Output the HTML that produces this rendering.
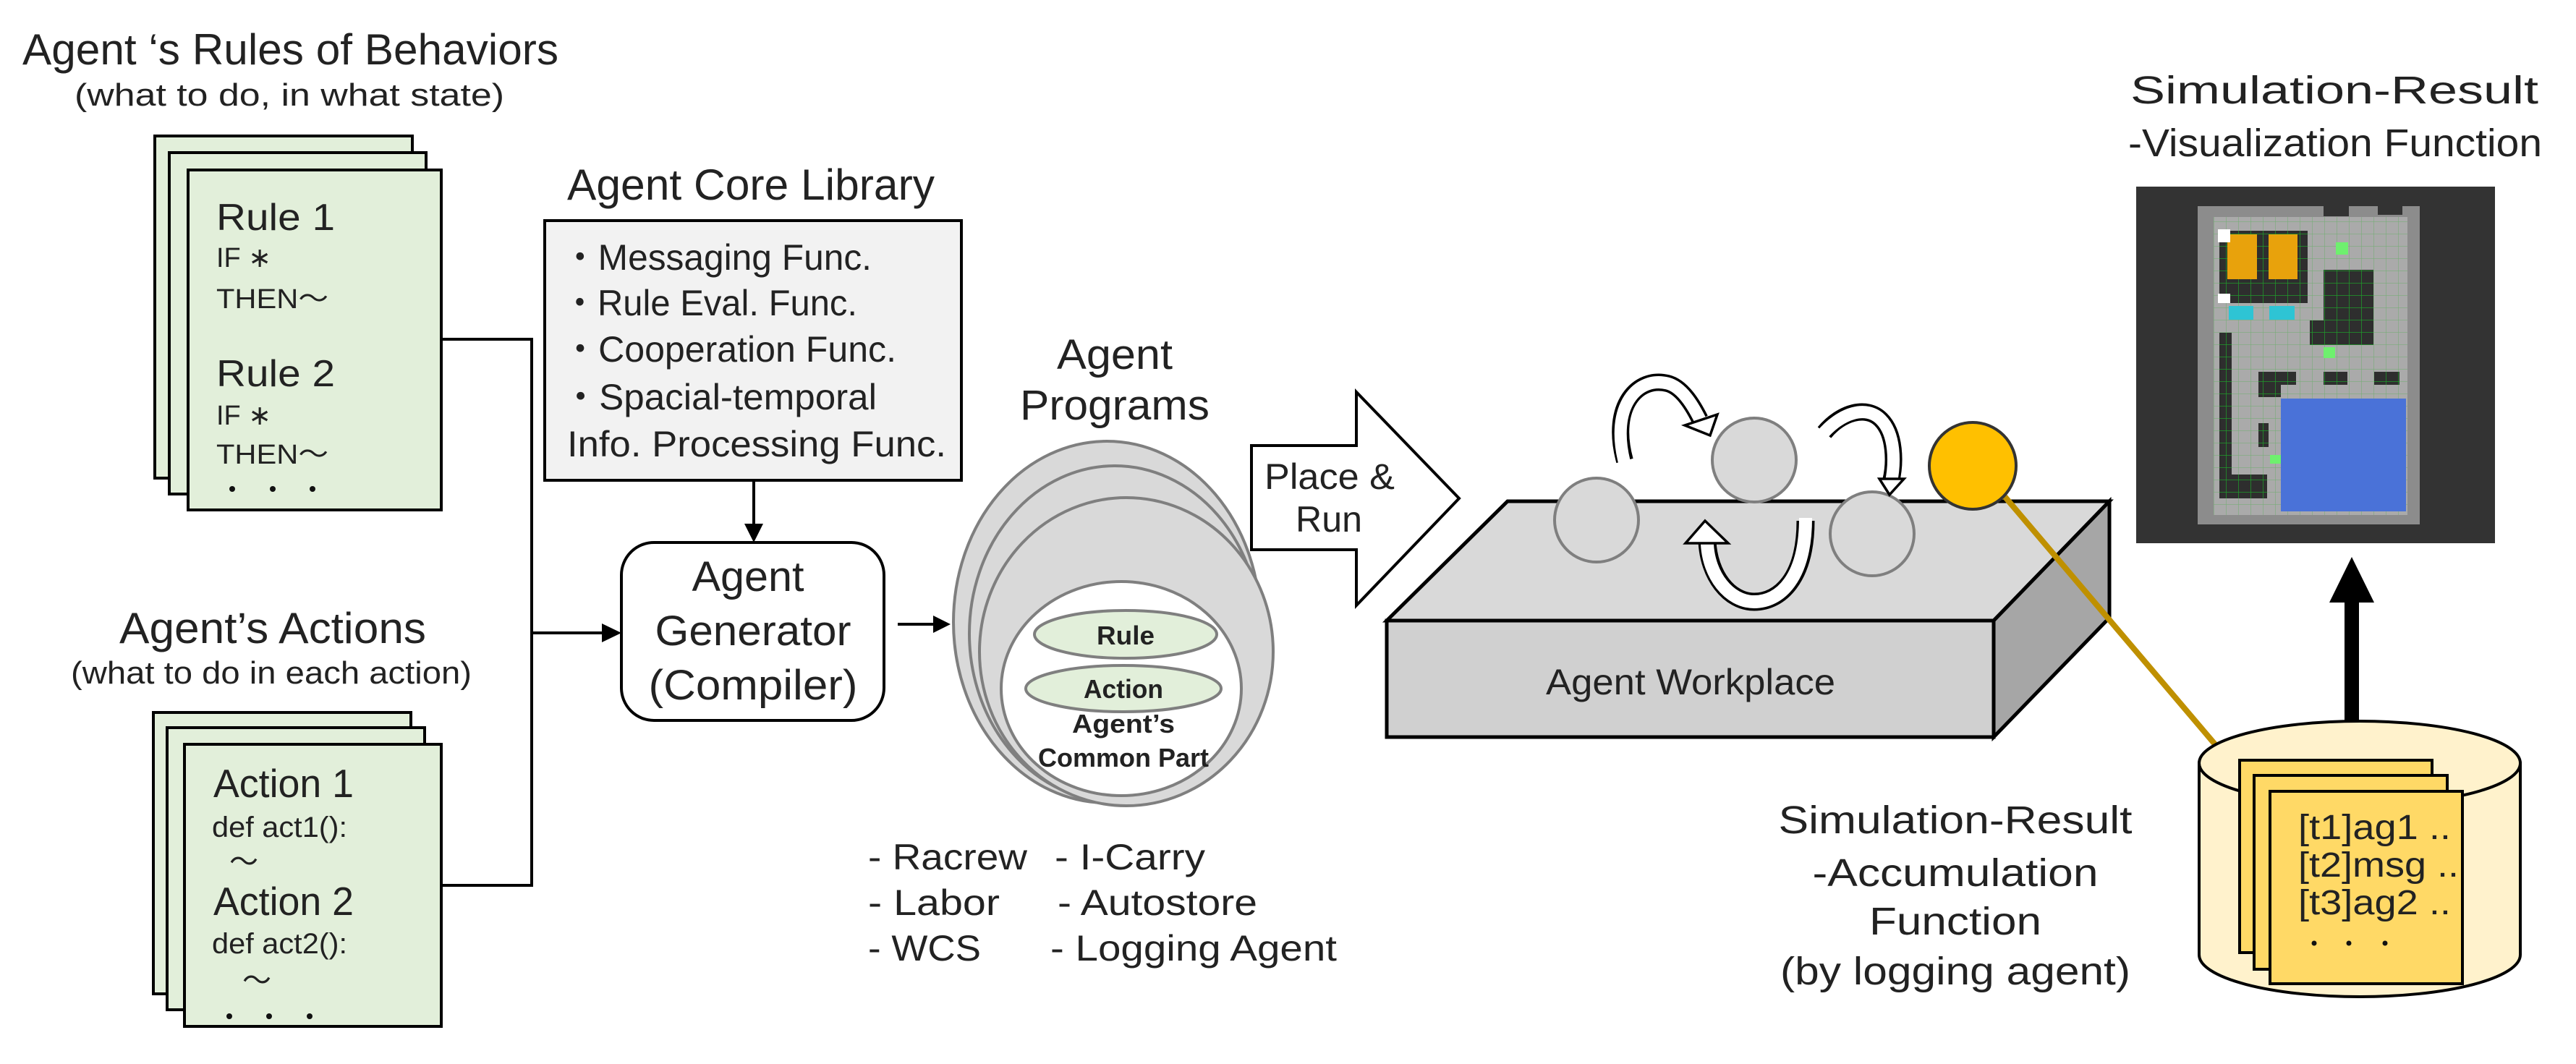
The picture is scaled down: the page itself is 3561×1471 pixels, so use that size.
<!DOCTYPE html>
<html><head><meta charset="utf-8"><style>
html,body{margin:0;padding:0;background:#fff;}
svg{display:block;}
text{font-family:"Liberation Sans","Noto Sans CJK JP",sans-serif;fill:#222;}
</style></head><body>
<svg width="3561" height="1471" viewBox="0 0 3561 1471" xmlns="http://www.w3.org/2000/svg">
<defs>
<pattern id="gg" width="17" height="17" patternUnits="userSpaceOnUse"><rect width="17" height="17" fill="#2e2e2e"/><path d="M0 0H17M0 0V17" stroke="#1f9a2a" stroke-width="1.5"/></pattern>
<pattern id="lg" width="17" height="17" patternUnits="userSpaceOnUse"><rect width="17" height="17" fill="#aaaaaa"/><path d="M0 0H17M0 0V17" stroke="#6fae6f" stroke-width="1"/></pattern>
</defs>

<text x="31" y="89" font-size="60" textLength="741" lengthAdjust="spacingAndGlyphs">Agent ‘s Rules of Behaviors</text>
<text x="103" y="146" font-size="44" textLength="594" lengthAdjust="spacingAndGlyphs">(what to do, in what state)</text>

<rect x="214" y="188" width="356" height="473" fill="#e2efda" stroke="#000" stroke-width="4"/>
<rect x="234" y="211" width="355" height="472" fill="#e2efda" stroke="#000" stroke-width="4"/>
<rect x="260" y="235" width="350" height="470" fill="#e2efda" stroke="#000" stroke-width="4"/>
<text x="299" y="318" font-size="52" textLength="164" lengthAdjust="spacingAndGlyphs">Rule  1</text>
<text x="299" y="369" font-size="38" textLength="76" lengthAdjust="spacingAndGlyphs">IF ∗</text>
<text x="299" y="426" font-size="38" textLength="155" lengthAdjust="spacingAndGlyphs">THEN～</text>
<text x="299" y="534" font-size="52" textLength="164" lengthAdjust="spacingAndGlyphs">Rule  2</text>
<text x="299" y="587" font-size="38" textLength="76" lengthAdjust="spacingAndGlyphs">IF ∗</text>
<text x="299" y="641" font-size="38" textLength="155" lengthAdjust="spacingAndGlyphs">THEN～</text>
<circle cx="321" cy="676" r="4" fill="#111"/><circle cx="377" cy="676" r="4" fill="#111"/><circle cx="432" cy="676" r="4" fill="#111"/>

<text x="165" y="889" font-size="60" textLength="424" lengthAdjust="spacingAndGlyphs">Agent’s Actions</text>
<text x="98" y="945" font-size="44" textLength="554" lengthAdjust="spacingAndGlyphs">(what to do in each action)</text>
<rect x="212" y="985" width="356" height="389" fill="#e2efda" stroke="#000" stroke-width="4"/>
<rect x="231" y="1006" width="356" height="390" fill="#e2efda" stroke="#000" stroke-width="4"/>
<rect x="255" y="1029" width="355" height="390" fill="#e2efda" stroke="#000" stroke-width="4"/>
<text x="295" y="1102" font-size="55" textLength="194" lengthAdjust="spacingAndGlyphs">Action 1</text>
<text x="293" y="1157" font-size="40" textLength="187" lengthAdjust="spacingAndGlyphs">def act1():</text>
<text x="317" y="1205" font-size="40">～</text>
<text x="295" y="1265" font-size="55" textLength="194" lengthAdjust="spacingAndGlyphs">Action 2</text>
<text x="293" y="1318" font-size="40" textLength="187" lengthAdjust="spacingAndGlyphs">def act2():</text>
<text x="335" y="1369" font-size="40">～</text>
<circle cx="317" cy="1405" r="4" fill="#111"/><circle cx="372" cy="1405" r="4" fill="#111"/><circle cx="428" cy="1405" r="4" fill="#111"/>

<polyline points="610,469 735,469 735,1224 610,1224" fill="none" stroke="#000" stroke-width="4"/>
<line x1="735" y1="875" x2="835" y2="875" stroke="#000" stroke-width="4"/>
<polygon points="859,875 832,862 832,888" fill="#000"/>

<text x="784" y="276" font-size="60" textLength="508" lengthAdjust="spacingAndGlyphs">Agent Core Library</text>
<rect x="753" y="305" width="576" height="359" fill="#f2f2f2" stroke="#000" stroke-width="4"/>
<text x="777" y="373" font-size="50" textLength="428" lengthAdjust="spacingAndGlyphs">・Messaging Func.</text>
<text x="777" y="436" font-size="50" textLength="408" lengthAdjust="spacingAndGlyphs">・Rule Eval. Func.</text>
<text x="777" y="500" font-size="50" textLength="462" lengthAdjust="spacingAndGlyphs">・Cooperation Func.</text>
<text x="777" y="566" font-size="50" textLength="435" lengthAdjust="spacingAndGlyphs">・Spacial-temporal</text>
<text x="784" y="631" font-size="50" textLength="524" lengthAdjust="spacingAndGlyphs">Info. Processing Func.</text>
<line x1="1042" y1="664" x2="1042" y2="728" stroke="#000" stroke-width="4"/>
<polygon points="1042,750 1029,724 1055,724" fill="#000"/>

<rect x="859" y="750" width="363" height="246" rx="45" fill="#fff" stroke="#000" stroke-width="4"/>
<text x="1034" y="817" font-size="58" text-anchor="middle" textLength="155" lengthAdjust="spacingAndGlyphs">Agent</text>
<text x="1041" y="892" font-size="58" text-anchor="middle" textLength="271" lengthAdjust="spacingAndGlyphs">Generator</text>
<text x="1041" y="967" font-size="58" text-anchor="middle" textLength="289" lengthAdjust="spacingAndGlyphs">(Compiler)</text>
<line x1="1241" y1="863" x2="1292" y2="863" stroke="#000" stroke-width="4"/>
<polygon points="1314,863 1290,851 1290,875" fill="#000"/>

<text x="1541" y="510" font-size="58" text-anchor="middle" textLength="160" lengthAdjust="spacingAndGlyphs">Agent</text>
<text x="1541" y="580" font-size="58" text-anchor="middle" textLength="262" lengthAdjust="spacingAndGlyphs">Programs</text>
<ellipse cx="1530" cy="860" rx="212" ry="250" fill="#d9d9d9" stroke="#7f7f7f" stroke-width="4"/>
<ellipse cx="1541" cy="876" rx="201" ry="232" fill="#d9d9d9" stroke="#7f7f7f" stroke-width="4"/>
<ellipse cx="1557" cy="901" rx="203" ry="213" fill="#d9d9d9" stroke="#7f7f7f" stroke-width="4"/>
<ellipse cx="1550" cy="952" rx="166" ry="148" fill="#fff" stroke="#7f7f7f" stroke-width="4"/>
<ellipse cx="1556" cy="877" rx="126" ry="33" fill="#e2efda" stroke="#7f7f7f" stroke-width="4"/>
<ellipse cx="1553" cy="952" rx="135" ry="32" fill="#e2efda" stroke="#7f7f7f" stroke-width="4"/>
<text x="1556" y="891" font-size="36" font-weight="bold" text-anchor="middle" textLength="80" lengthAdjust="spacingAndGlyphs">Rule</text>
<text x="1553" y="965" font-size="36" font-weight="bold" text-anchor="middle" textLength="110" lengthAdjust="spacingAndGlyphs">Action</text>
<text x="1553" y="1013" font-size="36" font-weight="bold" text-anchor="middle" textLength="142" lengthAdjust="spacingAndGlyphs">Agent’s</text>
<text x="1553" y="1060" font-size="36" font-weight="bold" text-anchor="middle" textLength="236" lengthAdjust="spacingAndGlyphs">Common Part</text>

<g font-size="50">
<text x="1200" y="1202" textLength="220" lengthAdjust="spacingAndGlyphs">- Racrew</text>
<text x="1200" y="1265" textLength="182" lengthAdjust="spacingAndGlyphs">- Labor</text>
<text x="1200" y="1328" textLength="156" lengthAdjust="spacingAndGlyphs">- WCS</text>
<text x="1458" y="1202" textLength="208" lengthAdjust="spacingAndGlyphs">- I-Carry</text>
<text x="1462" y="1265" textLength="276" lengthAdjust="spacingAndGlyphs">- Autostore</text>
<text x="1452" y="1328" textLength="396" lengthAdjust="spacingAndGlyphs">- Logging Agent</text>
</g>

<polygon points="1730,616 1875,616 1875,542 2017,689 1875,837 1875,760 1730,760" fill="#fff" stroke="#000" stroke-width="4"/>
<text x="1838" y="676" font-size="50" text-anchor="middle" textLength="180" lengthAdjust="spacingAndGlyphs">Place &amp;</text>
<text x="1837" y="735" font-size="50" text-anchor="middle" textLength="92" lengthAdjust="spacingAndGlyphs">Run</text>

<polygon points="1917,858 2084,693 2916,693 2756,858" fill="#d9d9d9" stroke="#000" stroke-width="5"/>
<polygon points="2756,858 2916,693 2916,854 2756,1019" fill="#a6a6a6" stroke="#000" stroke-width="5"/>
<rect x="1917" y="858" width="839" height="161" fill="#d0d0d0" stroke="#000" stroke-width="5"/>
<text x="2337" y="960" font-size="50" text-anchor="middle" textLength="400" lengthAdjust="spacingAndGlyphs">Agent Workplace</text>

<circle cx="2207" cy="719" r="58" fill="#d9d9d9" stroke="#7f7f7f" stroke-width="4"/>
<circle cx="2425" cy="636" r="58" fill="#d9d9d9" stroke="#7f7f7f" stroke-width="4"/>
<circle cx="2588" cy="738" r="58" fill="#d9d9d9" stroke="#7f7f7f" stroke-width="4"/>

<g fill="none" stroke-linecap="butt">
<path d="M2246,637 C2225,560 2265,520 2305,530 C2325,535 2340,560 2350,580" stroke="#000" stroke-width="24"/>
<path d="M2246,641 C2225,560 2265,520 2305,530 C2325,535 2340,560 2350,580" stroke="#fff" stroke-width="17"/>
<path d="M2522,598 C2545,570 2580,560 2600,580 C2620,600 2620,640 2614,665" stroke="#000" stroke-width="24"/>
<path d="M2518,602 C2545,570 2580,560 2600,580 C2620,600 2620,640 2614,668" stroke="#fff" stroke-width="17"/>
<path d="M2496,720 C2496,800 2460,832 2425,832 C2390,832 2362,795 2360,748" stroke="#000" stroke-width="25"/>
<path d="M2496,716 C2496,800 2460,832 2425,832 C2390,832 2362,795 2360,752" stroke="#fff" stroke-width="18"/>
</g>
<polygon points="2364,602 2329,588 2374,573" fill="#fff" stroke="#000" stroke-width="3.5"/>
<polygon points="2612,684 2598,662 2632,662" fill="#fff" stroke="#000" stroke-width="3.5"/>
<polygon points="2357,720 2330,751 2389,751" fill="#fff" stroke="#000" stroke-width="3.5"/>

<line x1="2770" y1="685" x2="3062" y2="1029" stroke="#bf9000" stroke-width="8"/>
<circle cx="2727" cy="644" r="60" fill="#ffc000" stroke="#333" stroke-width="4"/>

<text x="3227" y="143" font-size="54" text-anchor="middle" textLength="564" lengthAdjust="spacingAndGlyphs">Simulation-Result</text>
<text x="3228" y="216" font-size="54" text-anchor="middle" textLength="572" lengthAdjust="spacingAndGlyphs">-Visualization Function</text>

<rect x="2953" y="258" width="496" height="493" fill="#333333"/>
<rect x="3038" y="285" width="307" height="440" fill="#8c8c8c"/>
<rect x="3212" y="285" width="35" height="14" fill="#333"/>
<rect x="3287" y="285" width="34" height="12" fill="#333"/>
<rect x="3060" y="300" width="268" height="412" fill="url(#lg)"/>
<rect x="3068" y="319" width="122" height="100" fill="url(#gg)"/>
<rect x="3079" y="324" width="41" height="62" fill="#e8a20c"/>
<rect x="3136" y="324" width="40" height="62" fill="#e8a20c"/>
<rect x="3081" y="423" width="34" height="19" fill="#2ec4d4"/>
<rect x="3137" y="423" width="35" height="19" fill="#2ec4d4"/>
<rect x="3212" y="373" width="69" height="104" fill="url(#gg)"/>
<rect x="3193" y="443" width="19" height="34" fill="url(#gg)"/>
<rect x="3068" y="460" width="17" height="229" fill="url(#gg)"/>
<rect x="3068" y="656" width="66" height="33" fill="url(#gg)"/>
<rect x="3122" y="514" width="52" height="18" fill="url(#gg)"/>
<rect x="3122" y="532" width="31" height="17" fill="url(#gg)"/>
<rect x="3212" y="514" width="33" height="18" fill="url(#gg)"/>
<rect x="3282" y="514" width="35" height="18" fill="url(#gg)"/>
<rect x="3122" y="585" width="14" height="33" fill="url(#gg)"/>
<rect x="3153" y="551" width="173" height="156" fill="#4a72d8"/>
<rect x="3229" y="335" width="17" height="17" fill="#6ef06e"/>
<rect x="3212" y="480" width="16" height="15" fill="#6ef06e"/>
<rect x="3138" y="629" width="15" height="12" fill="#6ef06e"/>
<rect x="3066" y="317" width="17" height="18" fill="#fff"/>
<rect x="3066" y="406" width="17" height="13" fill="#fff"/>

<rect x="3241" y="830" width="20" height="170" fill="#000"/>
<polygon points="3251,770 3220,833 3282,833" fill="#000"/>

<path d="M3040,1055 L3040,1320 A222,58 0 0 0 3484,1320 L3484,1055 Z" fill="#fff2cc" stroke="#000" stroke-width="4"/>
<ellipse cx="3262" cy="1055" rx="222" ry="58" fill="#fff2cc" stroke="#000" stroke-width="4"/>
<rect x="3096" y="1051" width="266" height="266" fill="#ffd966" stroke="#000" stroke-width="4"/>
<rect x="3116" y="1072" width="267" height="268" fill="#ffd966" stroke="#000" stroke-width="4"/>
<rect x="3138" y="1094" width="266" height="266" fill="#ffd966" stroke="#000" stroke-width="4"/>
<text x="3177" y="1160" font-size="48" textLength="211" lengthAdjust="spacingAndGlyphs">[t1]ag1 ..</text>
<text x="3177" y="1212" font-size="48" textLength="222" lengthAdjust="spacingAndGlyphs">[t2]msg ..</text>
<text x="3177" y="1264" font-size="48" textLength="211" lengthAdjust="spacingAndGlyphs">[t3]ag2 ..</text>
<circle cx="3199" cy="1304" r="3.5" fill="#111"/><circle cx="3247" cy="1304" r="3.5" fill="#111"/><circle cx="3297" cy="1304" r="3.5" fill="#111"/>

<g font-size="54" text-anchor="middle">
<text x="2703" y="1152" textLength="489" lengthAdjust="spacingAndGlyphs">Simulation-Result</text>
<text x="2703" y="1225" textLength="395" lengthAdjust="spacingAndGlyphs">-Accumulation</text>
<text x="2703" y="1292" textLength="238" lengthAdjust="spacingAndGlyphs">Function</text>
<text x="2703" y="1361" textLength="484" lengthAdjust="spacingAndGlyphs">(by logging agent)</text>
</g>
</svg>
</body></html>
